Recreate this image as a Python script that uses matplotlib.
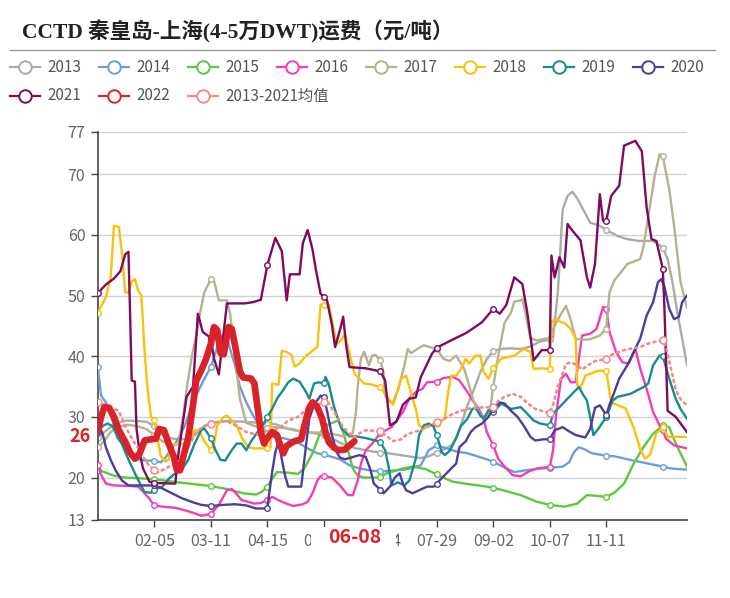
import matplotlib
matplotlib.use('Agg')
import matplotlib.pyplot as plt
import numpy as np
from matplotlib.lines import Line2D
from matplotlib.patches import Rectangle
import matplotlib.transforms as mtransforms

plt.rcParams['font.family'] = ['Noto Sans CJK SC', 'DejaVu Sans']

# ---------------- data (day of year, value) ----------------
tick_days = [35, 70, 105, 140, 175, 210, 245, 280, 315]
tick_labels = ['02-05', '03-11', '04-15', '05-20', '06-24', '07-29', '09-02', '10-07', '11-11']
y_ticks = [13, 20, 30, 40, 50, 60, 70, 77]
marker_days = [0, 35, 70, 105, 140, 175, 210, 245, 280, 315, 350]

d13 = [0,4,8,12,18,25,30,35,38,42,50,57,62,66,70,80,90,100,105,110,118,125,132,140,146,152,160,170,175,180,
       190,200,205,210,214,219,222,226,229,233,237,241,245,250,255,262,268,273,280,282,285,288,291,294,297,301,
       305,311,315,322,328,335,344,350,353,356,359,362,365]
v13 = [26.5,27.5,28.3,29,29.4,29.3,29.2,28.5,27.5,26.6,26.3,26.4,27.5,28.5,29,29.3,29.2,29,28.9,28.8,28,27.6,
       27.4,27,26.3,25.5,24.8,24.3,24.1,24,23.6,23.2,23.5,24.1,24.6,25.3,26.5,29.5,31.9,34.5,37.4,39.5,40.9,41.2,
       41.3,41.2,41.6,42.3,42.8,43,50.5,64.2,66.4,67.1,66,64,62,61.5,60.8,59.8,59.3,59,59,57.9,56,52.2,47.2,42.9,38.5]

d14 = [0,2,5,7,10,12,16,20,25,29,35,39,42,45,48,51,54,60,66,70,73,76,79,81,85,88,92,96,100,105,108,115,123,130,
       136,140,145,150,156,162,170,175,180,190,200,205,210,215,222,229,235,241,245,250,258,265,272,280,288,292,
       295,298,302,306,315,320,330,341,350,355,365]
v14 = [38.2,33.5,32.4,31,28.6,26.5,25.3,24,23,22.8,22.8,22.5,23.3,24.5,25.6,27,28.6,33,36.3,38.2,40.7,42.9,44,
       42,38.5,35,32.4,30.3,28.6,27.2,26.7,26.5,25.9,24.8,24,23.8,23.4,23,22,21.5,21.1,21,21.1,21.3,22,24.5,25.3,
       24.9,24.3,24,23.5,23,22.6,21.9,20.9,21.2,21.4,21.6,21.8,22.5,24.2,25,24.6,24,23.6,23.5,22.9,22.3,21.8,21.5,21.3]

d15 = [0,5,10,17,25,35,50,60,70,80,90,98,102,105,108,111,118,124,128,133,138,140,143,149,152,155,158,161,165,172,
       175,179,189,195,203,210,213,220,230,241,245,251,262,272,280,289,297,303,308,315,320,326,332,338,344,350,
       354,358,365]
v15 = [21.3,20.8,20.3,20,19.9,19.7,19.2,18.9,18.6,18.1,17.4,17.2,17.7,18.5,19.8,20.9,20.8,20.6,21.5,24,27.5,28.2,
       28.8,29.4,27.5,24.5,21.5,20.3,20,20,20.1,20.7,21.5,21.8,21.4,20.5,20.1,19.3,18.9,18.5,18.3,17.9,17.1,16,
       15.5,15.2,15.7,17.1,17,16.8,17.5,19,22.3,25,27.2,28.6,28.3,25.6,21.8]

d16 = [0,2,5,10,20,25,29,32,35,40,48,54,60,64,70,75,80,83,85,89,97,101,105,108,114,121,127,130,133,136,138,140,
       145,150,155,158,161,163,166,170,175,182,189,193,197,201,204,210,214,220,224,229,233,236,239,241,245,248,
       252,257,262,267,272,278,280,282,284,287,290,293,296,300,305,309,313,315,317,321,325,329,333,336,340,344,
       348,350,352,357,365]
v16 = [22,20.5,19,18.7,18.6,18.5,17.4,16.5,15.4,15.2,15,14.6,14.1,13.7,14,15.5,17.9,18.1,17.6,16.3,15.7,15.8,
       16.3,16.8,16,15.3,15.6,16,17.4,19.5,20.2,20.2,20,18.7,17.1,17.1,19.5,22.3,24.5,25.6,27.3,28.3,30.8,33,34.1,
       34.6,35.7,35.8,36.4,36.6,36,34.1,32.4,31.3,29.7,27.5,25.3,23.1,21.8,20.4,20.2,21,21.5,21.7,21.7,24.5,30.5,
       36.3,37.1,35.7,35.7,43.4,43.7,44.5,48.1,47.8,44,40.7,39,38.8,41.2,38,34.6,30.8,28.6,27.8,26.4,25.3,24.8]

d17 = [0,4,8,12,18,24,30,35,40,45,50,53,55,58,61,64,66,70,72,75,80,82,85,88,92,100,105,110,120,128,136,140,145,
       152,158,160,161,163,165,168,170,172,175,177,178,181,183,186,190,192,194,198,202,208,210,214,218,222,227,
       230,233,237,240,243,245,248,252,256,258,262,263,265,268,272,278,280,282,286,290,293,296,300,305,311,315,
       317,320,324,328,336,338,341,345,348,350,354,357,361,365]
v17 = [25,26,27.5,28.3,28.7,28.5,28,27,26,25.3,25.5,30.3,34.5,39.6,43.5,48,50.5,52.7,52.4,49.2,49.2,47,40,33,29,
       28.2,28.2,28.3,28,27.5,27.4,27.3,27.2,26.8,27.3,31,35,39.6,40.7,38.5,40.1,40.2,39.3,37.4,33.5,32.4,32.5,
       34.5,38.5,41.2,40.5,41.2,41.8,41.3,41.2,39.6,39.2,40.1,37.9,35.2,32.4,30.3,30,31,35,40,45.5,47.2,49,49.2,
       49.4,47,43,42.6,42.9,42.9,44.5,46.5,48.3,46,42.9,42.7,42.8,43.4,44.5,50.5,52.5,53.8,55.2,56,58,63,69.7,
       73.3,73,67.5,61.5,52.2,48]

d18 = [0,5,8,10,13,15,17,19,21,23,25,27,29,31,33,35,37,39,42,44,45,52,57,60,63,66,70,72,74,78,80,83,86,89,93,97,
       105,107,108,112,114,117,120,122,125,128,133,136,138,140,143,145,148,151,153,156,159,165,170,175,181,183,
       188,191,194,197,199,202,210,215,217,219,222,225,228,230,234,237,239,242,245,250,258,264,268,270,275,280,
       281,283,290,293,296,297,299,302,310,315,318,323,327,332,336,339,342,346,350,353,365]
v18 = [47.2,49.7,53,61.5,61.3,57,50.5,50.5,52.3,52.7,50.8,50,40.7,34.1,30,29.5,26.5,23.5,22.6,23,25.5,25.5,26,
       27.8,27.6,26,24.5,25.5,28.6,30,30.2,29.4,28.6,26.7,25,24.8,24.8,25,35.5,35.3,40.9,40.7,40.2,38.3,38.8,39.8,
       40.9,41.5,48.5,48.5,48.5,46,42,42.7,43.7,40.4,37.1,35.5,35.3,34.9,32.7,32,36.3,36.8,34,31.3,28.6,28.1,28.9,
       29.7,34.1,36.8,36.8,37.9,39.6,38.8,40.1,40.1,37.4,36.3,38,39.6,40.1,41.2,40.7,37.9,38,37.9,45.6,46.1,45.3,
       44.5,42.9,35.2,34.7,36.8,37.6,37.6,32.4,31.8,31.4,28.2,24.7,23.1,23.7,27.3,28.3,26.7,26.7]

d19 = [0,3,6,9,12,15,17,21,25,29,33,35,40,44,48,52,56,60,64,66,70,73,76,79,81,83,86,89,92,95,99,103,105,108,111,
       114,118,121,125,129,131,134,137,140,141,143,146,148,151,156,160,166,172,175,178,180,182,186,190,193,197,
       199,202,205,208,210,213,215,218,222,225,229,232,234,237,239,242,245,250,256,262,265,270,274,280,282,286,
       291,295,298,301,303,305,307,310,315,319,322,330,338,341,344,348,350,354,358,361,365]
v19 = [27.5,28.5,28.9,28.5,27,25.5,24.2,21.8,19.6,17.6,17.5,18,18.5,19.8,20.7,21.3,22.9,25.6,27.8,28.1,26.5,24.5,
       22.9,22.8,23.7,24.5,25.6,25.6,24.5,26,27.5,29,30,31.3,33,34.1,35.7,36.3,35.8,34.1,33,35.5,35.7,35.5,36.6,
       35.5,32,30.3,28.1,26.8,26.8,26.5,26.1,25.8,24.5,22,18.7,19.2,18.7,19.5,23.1,27,28.6,28.9,28.4,27,24.2,23.7,
       24.4,26.5,28.5,29.7,31.3,31.5,30.2,29.7,31.1,30.8,32.2,31.3,31.6,30.8,29.4,28.9,28.6,30.5,31.6,33,34.1,34.9,
       33.5,32.7,30,27,28,30,32.7,33.3,33.8,34.9,35.5,38.5,40.1,40,36.3,33,31.3,29.7]

d20 = [0,3,5,8,11,15,19,27,35,40,46,52,58,64,70,78,85,92,98,105,106,108,110,112,114,116,118,123,126,129,131,134,
       138,140,142,145,148,150,153,157,162,166,169,171,173,175,177,181,184,187,189,191,195,199,204,208,210,212,
       216,222,224,228,231,234,238,242,245,249,252,256,260,264,268,271,276,280,283,288,292,296,302,305,308,311,
       315,317,320,323,328,332,336,340,344,347,349,351,354,357,360,362,365]
v20 = [28.9,27.2,25,22.9,21.2,19.5,18.7,18.7,18.7,18.2,17.4,16.6,16,15.5,15.3,15.5,15.6,15.4,14.9,14.9,17,20.9,
       24.2,25.9,23,20.3,18.5,18.5,18.5,25.3,29.7,32,33.5,33.3,31,27,24.2,23.3,23,23.3,23.7,23.4,21.2,19,18.5,18,
       17.4,18.5,20,20.7,19,17.9,17.4,17.9,18.5,18.5,19,19.6,20.7,22.3,25,26,27.5,28.3,28.9,30,31.3,32.4,32.2,31,
       30,28.5,26.7,26.1,26.3,26.3,27.8,28.3,27.6,27,26.6,28,31.5,31.9,30.3,32,34.1,36.3,38.5,40.7,42.9,46.7,48.9,
       52.2,52.7,51.5,47.8,46.1,46.5,48.9,50]

d21 = [0,5,10,14,17,19,20,21,23,24,26,28,32,35,48,50,55,59,62,65,70,72,75,78,80,91,96,101,105,110,114,117,119,
       125,127,130,133,135,138,140,142,145,147,150,152,154,156,166,175,178,181,185,189,193,197,200,207,210,218,
       228,232,238,245,249,253,258,263,266,270,275,280,281,283,286,289,291,294,299,303,305,308,311,313,315,318,
       323,326,333,337,340,343,346,350,351,353,358,365]
v21 = [50.4,51.8,52.8,54,56.8,57.2,47,36,35.8,28,24,21.5,19.3,19.1,19,24,33.3,35,47,44,43,39.6,37,44,48.7,48.7,
       48.9,49.3,55,59.5,57.3,49.2,53.5,53.5,58.6,60.8,57.6,54.4,50.3,49.8,49.2,45.2,41.5,44.3,46.5,41.5,38.2,38,
       37.5,36,28.6,29.2,32,33,33.2,36.5,40.4,41.4,42.5,43.8,44.5,45.6,47.8,47,48.4,53,51.9,47.3,39.3,41,41,56.6,
       53,56.3,54.6,61.8,60.7,59.1,53,51.3,55.2,66.7,62.3,62.3,66.4,68.1,74.7,75.5,73.8,64.5,59.3,59,54.4,48,31,
       30,27.5]

d22 = [0,2,4,7,10,13,17,20,23,26,29,33,36,38,41,44,47,49,51,53,56,59,61,64,67,70,72,74,76,78,81,83,86,88,90,95,
       97,99,101,103,105,108,111,113,115,117,121,126,128,131,133,136,139,141,143,146,149,153,156,159]
v22 = [27.5,30,31.6,31.5,30,27.8,25.9,24.1,23.1,24,26.1,26.3,26.4,28,27.8,25.5,23.5,21.2,21.2,23.5,26.5,32,36,
       37.6,39.5,42,44.8,44.3,40.5,40.3,44.8,44.5,40.4,37.5,36.5,36.3,35.5,31.5,27.5,25.6,26.5,27.5,27,25.3,24,
       25.2,25.9,26.3,28.6,31.5,32.4,31.6,29.7,27.5,25.9,25,24.5,24.6,25.3,26]

d_avg = [0,4,8,13,17,22,26,30,35,37,42,48,52,56,60,64,70,75,80,86,92,100,105,108,114,118,124,132,136,140,142,146,
         152,155,158,162,166,175,178,183,188,192,200,205,210,214,220,225,232,245,248,252,257,262,266,271,280,282,
         285,290,293,297,300,303,308,315,318,325,331,336,340,344,350,352,355,358,361,365]
v_avg = [32.4,32,31.5,31,28.5,26,24.5,22.5,21.2,20.8,21.5,22.3,23,25,27,28.2,28.9,29.2,29.3,28.5,27.5,27,27.2,
         27.5,28.5,29.4,30,31.9,32,32.5,32.7,31,28.3,27.5,26.6,27.3,27.8,27.6,27,26,26.3,27.2,27.8,28.5,29.1,29.6,
         30.5,31,31.5,31.6,32.6,33.3,33.8,33.3,32.3,31.3,30.6,32,35,38.7,39,38.5,37.8,38.4,39.2,39.5,40.2,40.9,41.3,
         41.5,42,42.3,42.6,41.5,38,34.5,32.9,31.9]

names = ['2013', '2014', '2015', '2016', '2017', '2018', '2019', '2020', '2021', '2022', '2013-2021均值']
colors = ['#ababab', '#6b9fd6', '#5cc83b', '#f23db6', '#b6b18e', '#f9c10c', '#178c8c', '#4c3e99',
          '#7e0b5c', '#d9222a', '#f28a8a']
days_list = [d13, d14, d15, d16, d17, d18, d19, d20, d21, d22, d_avg]
vals_list = [v13, v14, v15, v16, v17, v18, v19, v20, v21, v22, v_avg]

# ---------------- figure ----------------
W, H = 730, 598
fig = plt.figure(figsize=(W / 100, H / 100), dpi=100)
ax = fig.add_axes([97.8 / W, (H - 520) / H, (687 - 97.8) / W, (520 - 131.7) / H])

z_order = [2, 3, 4, 5, 6, 7, 8, 9, 10, 12, 11]
for name, d, v, c, z in zip(names, days_list, vals_list, colors, z_order):
    d = np.asarray(d)
    v = np.asarray(v)
    mask = list(np.isin(d, marker_days))
    if name == '2022':
        ax.plot(d, v, color=c, lw=4.8, solid_joinstyle='round', solid_capstyle='round', zorder=z)
    elif name.startswith('2013-'):
        ax.plot(d, v, color=c, lw=1.9, ls=(0, (0.8, 1.6)), dash_capstyle='round', zorder=z,
                marker='o', markevery=mask, ms=5, mfc='white', mec=c, mew=1.1)
    else:
        ax.plot(d, v, color=c, lw=1.7, zorder=z, solid_joinstyle='round',
                marker='o', markevery=mask, ms=4, mfc='white', mec=c, mew=1.0)

ax.set_xlim(0, 365)
ax.set_ylim(13, 77)
ax.set_yticks(y_ticks)
ax.set_xticks(tick_days)
ax.set_xticklabels(tick_labels)
ax.yaxis.grid(True, color='#d2d2d2', lw=1.0)
ax.set_axisbelow(True)
for s in ['top', 'right']:
    ax.spines[s].set_visible(False)
for s in ['left', 'bottom']:
    ax.spines[s].set_color('#444444')
    ax.spines[s].set_linewidth(1.2)
ax.tick_params(axis='both', colors='#444444', length=5, width=1, labelcolor='#666666', labelsize=11.5)
ax.tick_params(axis='x', pad=4)
ax.tick_params(axis='y', pad=4)

# axis pointer labels
trans_y = mtransforms.blended_transform_factory(ax.transAxes, ax.transData)
ax.text(-0.012, 26.8, '26', transform=trans_y, ha='right', va='center', color='#d9222a',
        fontsize=13, fontweight='bold', clip_on=False, zorder=20)
trans_x = mtransforms.blended_transform_factory(ax.transData, ax.transAxes)
ax.add_patch(Rectangle((132, -0.075), 53, 0.058, transform=trans_x, facecolor='white',
                       edgecolor='none', clip_on=False, zorder=19))
ax.text(159, -0.046, '06-08', transform=trans_x, ha='center', va='center', color='#d9222a',
        fontsize=14, fontweight='bold', clip_on=False, zorder=20)

# title
fig.text(22 / W, 1 - 32 / H, 'CCTD 秦皇岛-上海(4-5万DWT)运费（元/吨）', fontsize=15.5, fontweight='bold',
         family=['Liberation Serif', 'Noto Sans CJK SC'], va='center', ha='left', color='#222222')
fig.add_artist(Line2D([10 / W, 715 / W], [1 - 50 / H, 1 - 50 / H], color='#9a9a9a', lw=1.0))

# legend
leg_x = [48, 137, 226, 315, 404, 493, 582, 671, 48, 137, 226]
leg_y = [67] * 8 + [96] * 3
for name, c, tx, ty in zip(names, colors, leg_x, leg_y):
    yy = 1 - ty / H
    fig.add_artist(Line2D([(tx - 38) / W, (tx - 8) / W], [yy, yy], color=c, lw=1.6))
    fig.add_artist(Line2D([(tx - 23) / W], [yy], marker='o', ms=9, mfc='white', mec=c, mew=1.4, lw=0))
    fig.text((tx - 1) / W, yy, name, fontsize=11, color='#555555', va='center', ha='left')

fig.savefig('out.png', dpi=100)
